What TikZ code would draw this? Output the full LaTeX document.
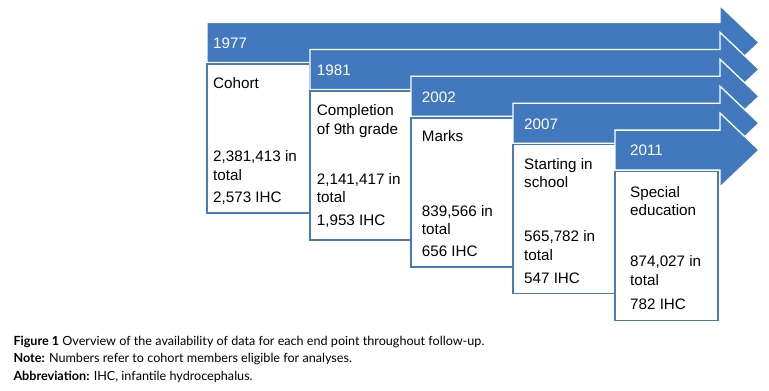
\documentclass[tikz,border=0pt]{standalone}
\usepackage{fontspec}
\setmainfont{Liberation Sans}
\newfontfamily\capfont{Lato}
\definecolor{arrowblue}{RGB}{65,120,190}
\definecolor{boxblue}{RGB}{70,122,188}
\begin{document}
\begin{tikzpicture}[x=1pt,y=-1pt,
  arrowshape/.style={fill=arrowblue,draw=white,line width=1.3pt,line join=miter},
  databox/.style={fill=white,draw=boxblue,line width=1.8pt},
  yeartext/.style={anchor=base west,inner sep=0pt,text=white,font=\fontsize{15.2}{18}\selectfont},
  boxtext/.style={anchor=base west,inner sep=0pt,text=black,font=\fontsize{15.2}{18}\selectfont},
  captext/.style={anchor=base west,inner sep=0pt,text=black,font=\capfont\fontsize{12.6}{14}\selectfont}]
\useasboundingbox (0,0) rectangle (769,391);
\def\bw{103}
\def\bh{149}
\newcommand\arrowpath[2]{%
  (#1,#2-20) -- (720,#2-20) -- (720,#2-37) -- (759,#2) -- (720,#2+37) -- (720,#2+20) -- (#1,#2+20) -- cycle}
\path[arrowshape] \arrowpath{207}{42.5};
\path[databox] (207,64) rectangle ++(\bw,\bh);
\path[arrowshape] \arrowpath{310}{69.4};
\path[databox] (310,91) rectangle ++(\bw,\bh);
\path[arrowshape] \arrowpath{411}{96.3};
\path[databox] (411,118) rectangle ++(\bw,\bh);
\path[arrowshape] \arrowpath{513}{123.2};
\path[databox] (513,144.5) rectangle ++(\bw,\bh);
\path[arrowshape] \arrowpath{615}{150.1};
\path[databox] (615,171.5) rectangle ++(\bw,\bh);
% years
\node[yeartext] (y1) at (213,48.3) {1977};
\node[yeartext] (y2) at (316.7,75.2) {1981};
\node[yeartext] (y3) at (421.7,102.1) {2002};
\node[yeartext] (y4) at (524,129) {2007};
\node[yeartext] (y5) at (630,155.9) {2011};
% box 1
\node[boxtext] (a1) at (213,88.3) {Cohort};
\node[boxtext] (a2) at (213,161.7) {2,381,413 in};
\node[boxtext] (a3) at (213,180) {total};
\node[boxtext] (a4) at (213,202.7) {2,573 IHC};
% box 2
\node[boxtext] (b1) at (316.7,115.7) {Completion};
\node[boxtext] (b2) at (316.7,134) {of 9th grade};
\node[boxtext] (b3) at (316.7,184) {2,141,417 in};
\node[boxtext] (b4) at (316.7,202.7) {total};
\node[boxtext] (b5) at (316.7,225.7) {1,953 IHC};
% box 3
\node[boxtext] (c1) at (421.7,141.7) {Marks};
\node[boxtext] (c2) at (421.7,216) {839,566 in};
\node[boxtext] (c3) at (421.7,234) {total};
\node[boxtext] (c4) at (421.7,256.7) {656 IHC};
% box 4
\node[boxtext] (d1) at (524,169) {Starting in};
\node[boxtext] (d2) at (524,187.3) {school};
\node[boxtext] (d3) at (524,241.7) {565,782 in};
\node[boxtext] (d4) at (524,260) {total};
\node[boxtext] (d5) at (524,283.3) {547 IHC};
% box 5
\node[boxtext] (e1) at (630,197.3) {Special};
\node[boxtext] (e2) at (630,215.7) {education};
\node[boxtext] (e3) at (630,266.7) {874,027 in};
\node[boxtext] (e4) at (630,285) {total};
\node[boxtext] (e5) at (630,309) {782 IHC};
% caption
\node[captext] (cap1) at (13.3,345.7) {\textbf{Figure 1} Overview of the availability of data for each end point throughout follow-up.};
\node[captext] (cap2) at (13.3,362.3) {\textbf{Note:} Numbers refer to cohort members eligible for analyses.};
\node[captext] (cap3) at (13.3,380) {\textbf{Abbreviation:} IHC, infantile hydrocephalus.};
\end{tikzpicture}
\end{document}
